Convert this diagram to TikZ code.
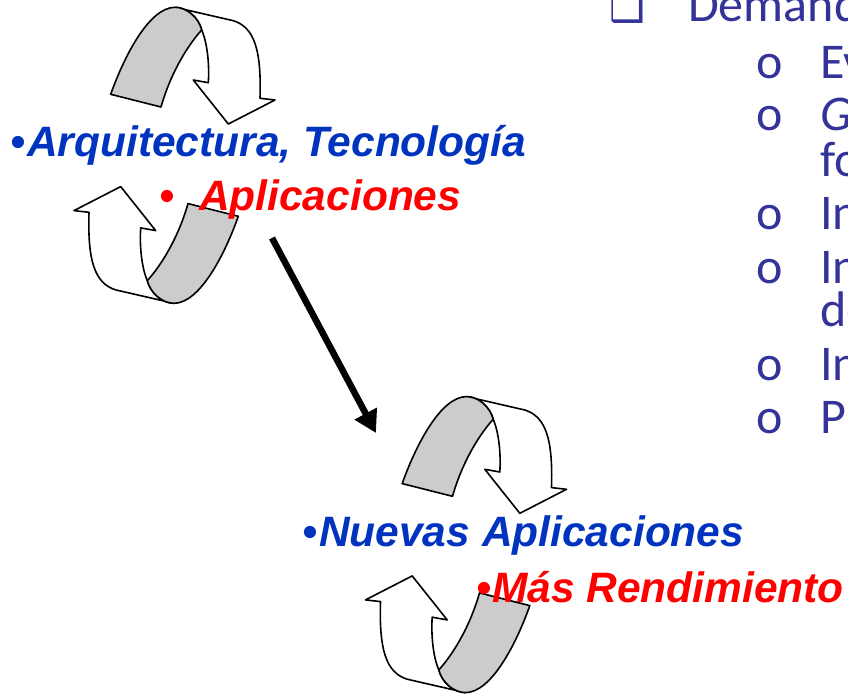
\documentclass[tikz,border=0pt]{standalone}
\usepackage{fontspec}
\usepackage{xcolor}
\usepackage[]{tikz}
\usetikzlibrary{positioning,arrows.meta}

\newfontfamily\arialf{Liberation Sans}
\newfontfamily\comicf{Carlito}
\newfontfamily\simbf{DejaVu Sans}
\definecolor{azulc}{RGB}{0,51,190}
\definecolor{rojoc}{RGB}{255,0,0}
\definecolor{moradoc}{RGB}{51,51,153}
\definecolor{grisc}{RGB}{204,204,204}

\begin{document}
\begin{tikzpicture}[
    x = 1pt, y = -1pt,
    borde/.style = {draw, line width=1.6pt, line join=round},
    azul/.style = {anchor=base west, inner sep=0pt, text=azulc, font=\arialf\bfseries\itshape\fontsize{42.5}{48}\selectfont},
    rojo/.style = {anchor=base west, inner sep=0pt, text=rojoc, font=\arialf\bfseries\itshape\fontsize{42.5}{48}\selectfont},
    der/.style = {anchor=base west, inner sep=0pt, text=moradoc, font=\comicf\fontsize{50}{56}\selectfont},
    flecha/.style = {line width=6.5pt, -{Triangle[length=22pt, width=24pt]}},
    mitad/.pic = {
        \draw[borde, fill=white] (0.5,-148) -- (58.8,-134.6) .. controls (80,-128) and (87,-105) .. (85.5,-57)
            -- (100.5,-55.3) -- (53.8,-31.3) -- (18.8,-75.3) -- (33.8,-72.6)
            .. controls (35,-90) and (33,-112) .. (27.2,-125.3) .. controls (24,-138) and (12,-148) .. (0.5,-148) -- cycle;
        \draw[borde, fill=grisc] (-63.8,-61) .. controls (-50,-100) and (-25,-148) .. (0.5,-148)
            .. controls (12,-148) and (24,-138) .. (27.2,-125.3) .. controls (15,-112) and (-3,-85) .. (-13.5,-48.3) -- cycle;
    },
    ciclo/.pic = {
        \pic {mitad};
        \pic[rotate=180] {mitad};
    }
]

\useasboundingbox (0,0) rectangle (848,693);
\clip (0,0) rectangle (848,693);

\pic at (174.5,155.3) {ciclo};
\pic at (466,544.6) {ciclo};

\node[azul] (arq) at (10,156.5) {•\hspace{2pt}Arquitectura, Tecnología};
\node[rojo] (apl) at (159,210) {•\hspace{25pt}Aplicaciones};
\node[azul] (nue) at (302,546) {•\hspace{2pt}Nuevas Aplicaciones};
\node[rojo] (mas) at (476,602) {•\hspace{1pt}Más Rendimiento};

\coordinate (ini) at (272,238);
\coordinate (fin) at (376,433);
\draw[flecha] (ini) -- (fin);

\node[der, font=\simbf\fontsize{40}{44}\selectfont] (cuad) at (609,21.7) {❑};
\node[der] (dem) at (688,21.7) {Demanda};
\node[der] (o1) at (756,78.3) {o};
\node[der] (t1) at (820,78.3) {Ev};
\node[der] (o2) at (756,130) {o};
\node[der] (t2) at (820,130) {\itshape G};
\node[der] (t2b) at (820,176.7) {fo};
\node[der] (o3) at (756,229) {o};
\node[der] (t3) at (820,229) {In};
\node[der] (o4) at (756,283) {o};
\node[der] (t4) at (820,283) {In};
\node[der] (t4b) at (820,326.7) {de};
\node[der] (o5) at (756,380) {o};
\node[der] (t5) at (820,380) {In};
\node[der] (o6) at (756,433) {o};
\node[der] (t6) at (820,433) {Pr};

\end{tikzpicture}
\end{document}
